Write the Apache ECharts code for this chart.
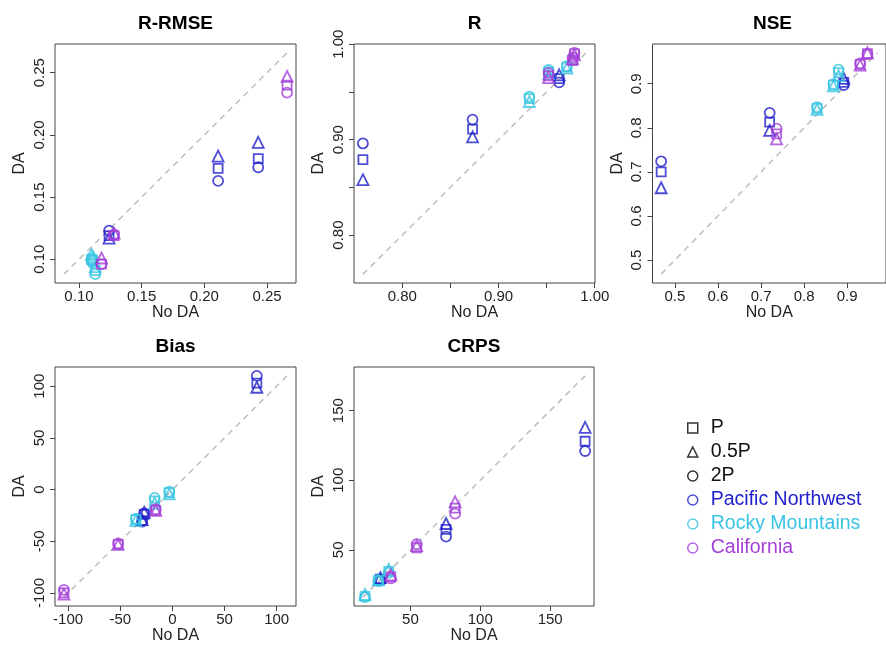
<!DOCTYPE html>
<html><head><meta charset="utf-8">
<script src="https://cdn.jsdelivr.net/npm/echarts@6/dist/echarts.min.js"></script>
<style>html,body{margin:0;padding:0;background:#fff}#c{width:886px;height:646px}</style>
</head><body><div id="c"></div>
<script>
// ---------- categories ----------
const regions = ['Pacific Northwest', 'Rocky Mountains', 'California'];
const regionColors = ['#2020CC', '#38C4E2', '#A33ED8'];
const variants = ['P', '0.5P', '2P'];
const variantSymbols = ['rect', 'triangle', 'circle'];
const variantSizes = [9, 11, 10];
// region index of each basin (3 basins per region)
const basinRegion = [0, 0, 0, 1, 1, 1, 2, 2, 2];
const panelTitles = ['R-RMSE', 'R', 'NSE', 'Bias', 'CRPS'];

// ---------- R-RMSE ----------
const rrmseNoDA  = [0.211, 0.243, 0.124, 0.110, 0.113, 0.111, 0.266, 0.128, 0.118];
const rrmseP     = [0.173, 0.181, 0.119, 0.100, 0.091, 0.099, 0.240, 0.119, 0.096];
const rrmseHalfP = [0.183, 0.194, 0.117, 0.104, 0.094, 0.102, 0.247, 0.121, 0.101];
const rrmse2P    = [0.163, 0.174, 0.123, 0.099, 0.088, 0.097, 0.234, 0.120, 0.096];
// ---------- R ----------
const rNoDA  = [0.759, 0.873, 0.963, 0.932, 0.952, 0.971, 0.952, 0.977, 0.979];
const rP     = [0.879, 0.911, 0.964, 0.943, 0.971, 0.976, 0.967, 0.983, 0.990];
const rHalfP = [0.858, 0.903, 0.968, 0.940, 0.969, 0.975, 0.965, 0.985, 0.989];
const r2P    = [0.896, 0.921, 0.960, 0.945, 0.973, 0.977, 0.970, 0.986, 0.991];
// ---------- NSE ----------
const nseNoDA  = [0.468, 0.720, 0.892, 0.830, 0.868, 0.880, 0.736, 0.930, 0.947];
const nseP     = [0.700, 0.813, 0.903, 0.844, 0.897, 0.925, 0.786, 0.944, 0.968];
const nseHalfP = [0.664, 0.794, 0.912, 0.842, 0.895, 0.918, 0.775, 0.942, 0.970];
const nse2P    = [0.724, 0.834, 0.897, 0.847, 0.899, 0.932, 0.798, 0.946, 0.967];
// ---------- Bias ----------
const biasNoDA  = [81, -27, -29, -35, -17, -3, -104, -52, -16];
const biasP     = [103, -24, -30, -29, -11, -3, -100, -53, -20];
const biasHalfP = [99, -22, -29, -30, -13, -4, -101, -53, -20];
const bias2P    = [110, -23, -31, -28, -8, -2, -97, -52, -19];
// ---------- CRPS ----------
const crpsNoDA  = [175, 75.5, 28.5, 34.5, 17.5, 27, 82, 54.5, 36];
const crpsP     = [128, 64.7, 29, 34.5, 16.5, 28, 80, 51.5, 30.5];
const crpsHalfP = [138, 68.9, 30, 36, 18, 28.5, 84.5, 53, 32];
const crps2P    = [121, 59.5, 28, 33.5, 16, 27.5, 76, 54, 29.5];

// ---------- tick values and labels ----------
const rrmseTicks = [0.10, 0.15, 0.20, 0.25];
const rrmseLabels = [0.10, 0.15, 0.20, 0.25];
const rTicks = [0.80, 0.85, 0.90, 0.95, 1.00];
const rLabels = [0.80, 0.90, 1.00];
const nseTicks = [0.5, 0.6, 0.7, 0.8, 0.9];
const nseLabels = [0.5, 0.6, 0.7, 0.8, 0.9];
const biasTicks = [-100, -50, 0, 50, 100];
const biasLabels = [-100, -50, 0, 50, 100];
const crpsTicks = [50, 100, 150];
const crpsLabels = [50, 100, 150];

// ---------- assemble ----------
const panelNoDA = [rrmseNoDA, rNoDA, nseNoDA, biasNoDA, crpsNoDA];
const panelDA = [
  [rrmseP, rrmseHalfP, rrmse2P],
  [rP, rHalfP, r2P],
  [nseP, nseHalfP, nse2P],
  [biasP, biasHalfP, bias2P],
  [crpsP, crpsHalfP, crps2P]
];
const panelTicks = [rrmseTicks, rTicks, nseTicks, biasTicks, crpsTicks];
const panelLabels = [rrmseLabels, rLabels, nseLabels, biasLabels, crpsLabels];
const panelDigits = [2, 2, 1, 0, 0];

const layout = [
  {left: 55, top: 44, width: 241, height: 239},
  {left: 354, top: 44, width: 241, height: 239},
  {left: 652.5, top: 44, width: 243, height: 239},
  {left: 55, top: 367, width: 241, height: 239},
  {left: 354, top: 367, width: 240, height: 239}
];

const FONT = 'Liberation Sans, Arial, Helvetica, sans-serif';
const grids = [], xAxes = [], yAxes = [], series = [], graphics = [];

panelTitles.forEach((title, p) => {
  const L = layout[p];
  grids.push({left: L.left, top: L.top, width: L.width, height: L.height,
    show: true, borderColor: '#444', borderWidth: 1, backgroundColor: 'transparent'});
  const all = panelNoDA[p].concat(...panelDA[p]);
  const lo = Math.min(...all), hi = Math.max(...all);
  const ext = (hi - lo) * 0.04;
  const d = panelDigits[p];
  const axisCommon = {
    type: 'value', min: lo - ext, max: hi + ext, gridIndex: p,
    splitLine: {show: false},
    axisLine: {show: false, onZero: false},
    axisTick: {show: true, length: 5, inside: false, customValues: panelTicks[p],
      lineStyle: {color: '#444', width: 1}},
    nameLocation: 'middle',
    nameTextStyle: {fontSize: 16, color: '#222', fontFamily: FONT}
  };
  xAxes.push(Object.assign({}, axisCommon, {
    name: 'No DA', nameGap: 21,
    axisLabel: {customValues: panelLabels[p], fontSize: 15, color: '#222', fontFamily: FONT,
      margin: 6, formatter: v => Number(v).toFixed(d)}
  }));
  yAxes.push(Object.assign({}, axisCommon, {
    name: 'DA', nameGap: 27,
    axisLabel: {customValues: panelLabels[p], fontSize: 15, color: '#222', fontFamily: FONT,
      margin: 8, rotate: 90, formatter: v => Number(v).toFixed(d)}
  }));
  // 1:1 reference segment from min to max of the data
  series.push({type: 'line', xAxisIndex: p, yAxisIndex: p, silent: true, symbol: 'none', z: 1,
    data: [[lo, lo], [hi, hi]],
    lineStyle: {color: '#bdbdbd', width: 1.5, type: [6, 5]}});
  regions.forEach((reg, ri) => {
    variants.forEach((vn, vi) => {
      const data = [];
      panelNoDA[p].forEach((xv, b) => {
        if (basinRegion[b] === ri) data.push([xv, panelDA[p][vi][b]]);
      });
      series.push({type: 'scatter', xAxisIndex: p, yAxisIndex: p, silent: true, z: 3,
        symbol: variantSymbols[vi], symbolSize: variantSizes[vi], data: data,
        itemStyle: {color: 'rgba(0,0,0,0)', borderColor: regionColors[ri], borderWidth: 1.8}});
    });
  });
  graphics.push({type: 'text', x: L.left + L.width / 2 - (p === 2 ? 1.5 : 0), y: L.top - 20,
    style: {text: title, textAlign: 'center', textVerticalAlign: 'middle',
      font: 'bold 19px ' + FONT, fill: '#000'}});
});

// legend entries (empty series carrying the legend names)
const legendNames = variants.concat(regions);
const legendData = [];
legendNames.forEach((nm, i) => {
  const isVar = i < 3;
  const col = isVar ? '#000' : regionColors[i - 3];
  const icon = isVar ? variantSymbols[i] : 'circle';
  series.push({type: 'scatter', name: nm, xAxisIndex: 0, yAxisIndex: 0, data: [],
    symbol: icon, itemStyle: {color: 'rgba(0,0,0,0)', borderColor: col, borderWidth: 1.5}});
  legendData.push({name: nm, icon: icon,
    itemStyle: {color: 'rgba(0,0,0,0)', borderColor: col, borderWidth: 1.5},
    textStyle: {color: isVar ? '#111' : col}});
});

const chart = echarts.init(document.getElementById('c'), null, {renderer: 'canvas'});
chart.setOption({
  animation: false,
  backgroundColor: '#fff',
  textStyle: {fontFamily: FONT},
  grid: grids, xAxis: xAxes, yAxis: yAxes,
  graphic: graphics,
  legend: {orient: 'vertical', left: 687, top: 418, padding: 0, itemWidth: 10, itemHeight: 10,
    itemGap: 4, selectedMode: false, data: legendData,
    textStyle: {fontSize: 19.5, fontFamily: FONT, padding: [0, 0, 0, 8]}},
  series: series
});
</script></body></html>
